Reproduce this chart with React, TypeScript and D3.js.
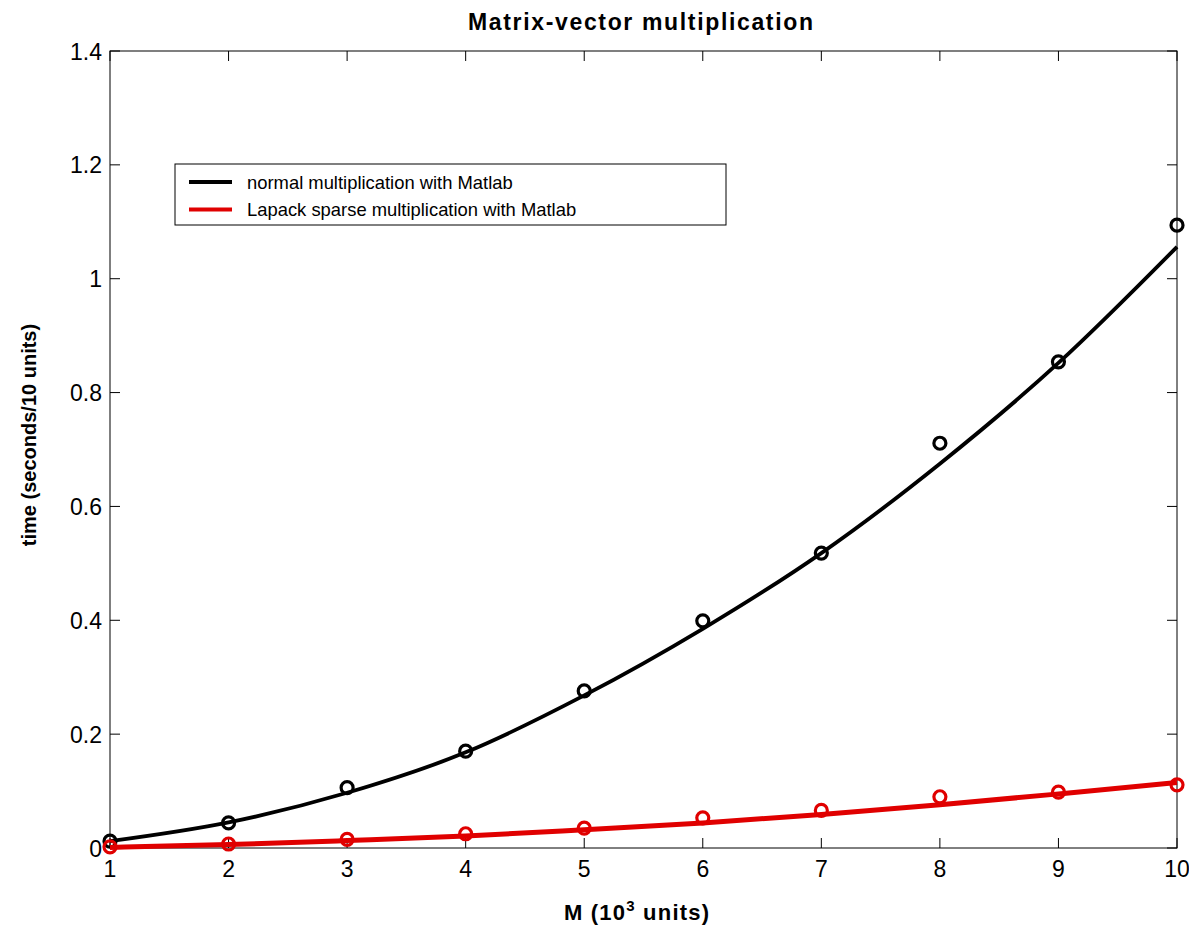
import React from "react";
import * as d3 from "d3";

const W = 1189;
const H = 931;

const mValues = [1, 2, 3, 4, 5, 6, 7, 8, 9, 10];
const normalMeasured = [0.012, 0.044, 0.106, 0.17, 0.276, 0.399, 0.518, 0.711, 0.854, 1.094];
const normalFit = [0.012, 0.045, 0.097, 0.168, 0.268, 0.385, 0.518, 0.675, 0.852, 1.056];
const sparseMeasured = [0.002, 0.007, 0.015, 0.025, 0.035, 0.053, 0.066, 0.09, 0.098, 0.111];
const sparseFit = [0.001, 0.006, 0.013, 0.021, 0.032, 0.044, 0.059, 0.076, 0.095, 0.115];

const xTicks = [1, 2, 3, 4, 5, 6, 7, 8, 9, 10];
const yTicks = [0, 0.2, 0.4, 0.6, 0.8, 1, 1.2, 1.4];

const legendLabels = [
  "normal multiplication with Matlab",
  "Lapack sparse multiplication with Matlab",
];
const seriesColors = ["#000000", "#e00000"];

const margin = { left: 110, right: 1177, top: 51, bottom: 848 };
const FONT = "'Liberation Sans', Arial, Helvetica, sans-serif";

export default function App() {
  const x = d3.scaleLinear().domain([1, 10]).range([margin.left, margin.right]);
  const y = d3.scaleLinear().domain([0, 1.4]).range([margin.bottom, margin.top]);

  const line = d3
    .line<number>()
    .x((_, i) => x(mValues[i]))
    .y((d) => y(d))
    .curve(d3.curveMonotoneX);

  const tickLen = 10;
  const yLabel = (v: number) => (v === 0 ? "0" : String(+v.toFixed(1)));

  const series = [
    { measured: normalMeasured, fit: normalFit, color: seriesColors[0], lw: 3.8 },
    { measured: sparseMeasured, fit: sparseFit, color: seriesColors[1], lw: 5 },
  ];

  return (
    <svg
      width={W}
      height={H}
      style={{ position: "absolute", left: 0, top: 0, background: "#fff" }}
      fontFamily={FONT}
    >
      <rect x={0} y={0} width={W} height={H} fill="#fff" />
      {/* title */}
      <text
        x={468}
        y={30}
        fontSize={23}
        fontWeight="bold"
        textLength={345}
        lengthAdjust="spacing"
      >
        Matrix-vector multiplication
      </text>

      {/* ticks */}
      {xTicks.map((t) => (
        <g key={"xt" + t}>
          <line x1={x(t)} x2={x(t)} y1={margin.bottom} y2={margin.bottom - tickLen} stroke="#000" strokeWidth={1} />
          <line x1={x(t)} x2={x(t)} y1={margin.top} y2={margin.top + tickLen} stroke="#000" strokeWidth={1} />
          <text x={x(t)} y={margin.bottom + 29} textAnchor="middle" fontSize={23}>
            {t}
          </text>
        </g>
      ))}
      {yTicks.map((t) => (
        <g key={"yt" + t}>
          <line x1={margin.left} x2={margin.left + tickLen} y1={y(t)} y2={y(t)} stroke="#000" strokeWidth={1} />
          <line x1={margin.right} x2={margin.right - tickLen} y1={y(t)} y2={y(t)} stroke="#000" strokeWidth={1} />
          <text x={margin.left - 8} y={y(t) + 8.5} textAnchor="end" fontSize={23}>
            {yLabel(t)}
          </text>
        </g>
      ))}

      {/* box */}
      <rect
        x={margin.left}
        y={margin.top}
        width={margin.right - margin.left}
        height={margin.bottom - margin.top}
        fill="none"
        stroke="#000"
        strokeWidth={1}
      />

      {/* series */}
      {series.map((s, si) => (
        <g key={"s" + si}>
          <path d={line(s.fit) || ""} fill="none" stroke={s.color} strokeWidth={s.lw} strokeLinejoin="round" />
          {s.measured.map((v, i) => (
            <circle key={i} cx={x(mValues[i])} cy={y(v)} r={6} fill="none" stroke={s.color} strokeWidth={3.2} />
          ))}
        </g>
      ))}

      {/* legend */}
      <g>
        <rect x={175} y={164} width={551} height={61} fill="#fff" stroke="#000" strokeWidth={1} />
        {legendLabels.map((lab, i) => (
          <g key={"lg" + i}>
            <line
              x1={189}
              x2={232}
              y1={182 + i * 27.5}
              y2={182 + i * 27.5}
              stroke={seriesColors[i]}
              strokeWidth={3.8}
            />
            <text x={247} y={182 + i * 27.5 + 6.5} fontSize={18.4}>
              {lab}
            </text>
          </g>
        ))}
      </g>

      {/* axis labels */}
      <text x={564} y={920} fontSize={22} fontWeight="bold" letterSpacing={1.2}>
        M (10
        <tspan dy={-9} fontSize={15}>
          3
        </tspan>
        <tspan dy={9}> units)</tspan>
      </text>
      <text
        transform={`translate(36, 435) rotate(-90)`}
        textAnchor="middle"
        fontSize={20}
        fontWeight="bold"
      >
        time (seconds/10 units)
      </text>
    </svg>
  );
}
